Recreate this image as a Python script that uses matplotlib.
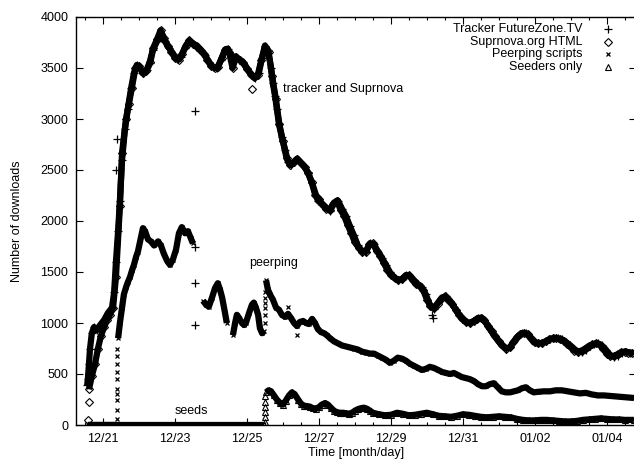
import numpy as np
import matplotlib
matplotlib.use('Agg')
import matplotlib.pyplot as plt
from matplotlib.ticker import MultipleLocator

plt.rcParams['font.family'] = ['Liberation Sans', 'DejaVu Sans']
plt.rcParams['font.size'] = 9

nan = float('nan')

# x in days since 12/21 00:00
tick_days = [0, 2, 4, 6, 8, 10, 12, 14]
tick_labels = ['12/21', '12/23', '12/25', '12/27', '12/29', '12/31', '01/02', '01/04']

tracker_day = [-0.44, -0.42, -0.39, -0.36, -0.31, -0.25, -0.17, -0.08, 0.03, 0.14, 0.25, 0.31,
               0.36, 0.42, 0.47, 0.53, 0.61, 0.69, 0.78, 0.86, 0.94, 1.03, 1.11, 1.22, 1.31,
               1.39, 1.50, 1.61, 1.72, 1.83, 1.94, 2.06, 2.17, 2.28, 2.39, 2.50, 2.61, 2.72,
               2.83, 2.94, 3.06, 3.17, 3.28, 3.39, 3.47, 3.56, 3.67, 3.78, 3.89, 4.00, 4.11,
               4.22, 4.33, 4.42, 4.50, 4.58, 4.67, 4.72, 4.78, 4.83, 4.89, 4.97, 5.06, 5.14,
               5.22, 5.31, 5.39, 5.47, 5.58, 5.69, 5.81, 5.97, 6.14, 6.31, 6.42, 6.53, 6.64,
               6.75, 6.86, 6.97, 7.08, 7.19, 7.31, 7.42, 7.53, 7.64, 7.75, 7.86, 7.97, 8.08,
               8.19, 8.31, 8.42, 8.53, 8.64, 8.75, 8.86, 8.97, 9.08, 9.19, 9.31, 9.42, 9.53,
               9.64, 9.75, 9.86, 9.97, 10.08, 10.19, 10.31, 10.42, 10.53, 10.64, 10.75, 10.86,
               10.97, 11.08, 11.19, 11.31, 11.42, 11.53, 11.64, 11.75, 11.86, 11.97, 12.08,
               12.19, 12.31, 12.42, 12.53, 12.64, 12.75, 12.86, 12.97, 13.08, 13.19, 13.31,
               13.42, 13.53, 13.64, 13.75, 13.86, 13.97, 14.08, 14.19, 14.31, 14.42, 14.53,
               14.64, 14.75]
tracker_val = [390, 450, 600, 750, 900, 960, 930, 980, 1030, 1100, 1150, 1300,
               1600, 1900, 2200, 2600, 2900, 3100, 3300, 3450, 3530, 3500, 3450, 3480, 3550,
               3680, 3760, 3800, 3760, 3700, 3640, 3590, 3610, 3700, 3760, 3740, 3720, 3680,
               3630, 3560, 3510, 3500, 3580, 3680, 3690, 3620, 3610, 3580, 3560, 3500, 3430,
               3400, 3450, 3600, 3720, 3680, 3500, 3350, 3230, 3100, 2950, 2820, 2700, 2580,
               2550, 2580, 2610, 2580, 2540, 2480, 2370, 2200, 2150, 2100, 2180, 2200, 2120,
               2050, 1950, 1860, 1760, 1700, 1700, 1780, 1770, 1700, 1640, 1570, 1500, 1450,
               1420, 1430, 1470, 1460, 1420, 1380, 1350, 1280, 1180, 1140, 1200, 1250, 1260,
               1220, 1160, 1100, 1040, 1010, 1000, 1020, 1050, 1050, 1000, 940, 880,
               830, 780, 750, 760, 820, 870, 900, 900, 860, 810, 800,
               805, 820, 840, 850, 850, 840, 815, 785, 750, 720, 720,
               740, 770, 790, 800, 780, 740, 690, 670, 680, 710, 720,
               710, 700]
tracker_odd_day = [2.56, 2.56, 2.56, 2.56, 9.14, 9.17, 0.36, 0.39]
tracker_odd_val = [3080, 1750, 1390, 980, 1080, 1050, 2500, 2800]

suprnova_day = [-0.39, -0.31, -0.22, -0.14, -0.06, 0.03, 0.11, 0.19, 0.28, 0.36, 0.47, 0.53,
                0.64, 0.72, 0.8, 0.9, 1.0, 1.1, 1.2, 1.3, 1.4, 1.5, 1.6, 1.7, 1.8, 1.9, 2.0,
                2.1, 2.2, 2.3, 2.4, 2.5, 2.6, 2.7, 2.8, 2.9, 3.0, 3.1, 3.2, 3.3, 3.4, 3.5, 3.6,
                3.7, 3.8, 3.9, 4.0, 4.2, 4.3, 4.4, 4.5, 4.6, 4.7, 4.8, 4.9, 5.0, 5.1, 5.2,
                5.3, 5.4, 5.5, 5.6, 5.7, 5.8, 5.9, 6.0, 6.1, 6.2, 6.3, 6.4, 6.5, 6.6, 6.7,
                6.8, 6.9, 7.0, 7.1, 7.2, 7.3, 7.4, 7.5, 7.6, 7.7, 7.8, 7.9, 8.0, 8.1, 8.2,
                8.3, 8.4, 8.5, 8.6, 8.7, 8.8, 8.9, 9.0, 9.1, 9.2, 9.3, 9.4, 9.5, 9.6, 9.7,
                9.8, 9.9, 10.0, 10.1, 10.2, 10.3, 10.4, 10.5, 10.6, 10.7, 10.8, 10.9, 11.0,
                11.1, 11.2, 11.3, 11.4, 11.5, 11.6, 11.7, 11.8, 11.9, 12.0, 12.1, 12.2, 12.3,
                12.4, 12.5, 12.6, 12.7, 12.8, 12.9, 13.0, 13.1, 13.2, 13.3, 13.4, 13.5, 13.6,
                13.7, 13.8, 13.9, 14.0, 14.1, 14.2, 14.3, 14.4, 14.5, 14.6, 14.7]
suprnova_val = [350, 480, 600, 750, 870, 960, 1030, 1080, 1150, 1450, 2150, 2670,
                3000, 3150, 3300, 3500, 3520, 3450, 3470, 3560, 3700, 3780, 3870, 3790, 3720, 3660, 3600,
                3580, 3640, 3720, 3770, 3740, 3710, 3680, 3640, 3580, 3520, 3500, 3510, 3600, 3680, 3660, 3500,
                3610, 3580, 3550, 3490, 3410, 3430, 3580, 3700, 3660, 3420, 3200, 2950, 2780, 2620, 2550,
                2580, 2610, 2570, 2530, 2470, 2380, 2250, 2220, 2160, 2120, 2110, 2170, 2200, 2110, 2050,
                1960, 1880, 1790, 1740, 1700, 1700, 1770, 1780, 1710, 1660, 1590, 1520, 1470, 1440, 1420,
                1430, 1460, 1470, 1420, 1380, 1360, 1320, 1230, 1170, 1150, 1190, 1240, 1260, 1230, 1190,
                1130, 1080, 1040, 1010, 1000, 1020, 1040, 1050, 1030, 970, 920, 870, 820,
                780, 750, 760, 810, 860, 890, 900, 890, 850, 810, 800, 805, 820,
                840, 850, 850, 840, 820, 790, 760, 730, 720, 730, 750, 775, 790,
                800, 785, 750, 700, 675, 675, 695, 715, 720, 710, 705]
suprnova_odd_day = [-0.42, -0.39, 4.14]
suprnova_odd_val = [50, 225, 3294]

peerping_day = [-0.42, 0.39, nan,
                0.42, 0.47, 0.53, 0.58, 0.64, 0.69, 0.75, 0.81, 0.86, 0.92, 0.97, 1.06, 1.11,
                1.17, 1.25, 1.33, 1.42, 1.53, 1.61, 1.69, 1.78, 1.86, 1.94, 2.03, 2.11, 2.19,
                2.28, 2.36, 2.44, 2.50, nan,
                2.78, 2.86, 2.94, 3.03, 3.11, 3.19, 3.25, 3.31, 3.39, 3.44, nan,
                3.61, 3.67, 3.72, 3.78, 3.86, 3.92, 3.97, 4.06, 4.14, 4.19, 4.25, 4.31, 4.36,
                4.42, 4.47, nan,
                4.53, 4.58, 4.64, 4.72, 4.81, 4.89, 4.97, 5.06, 5.14, 5.22, 5.31, 5.39, 5.47,
                5.56, 5.64, 5.72, 5.81, 5.89, 5.97, 6.06, 6.14, 6.22, 6.31, 6.42, 6.53, 6.64,
                6.75, 6.86, 6.97, 7.08, 7.19, 7.31, 7.42, 7.53, 7.64, 7.75, 7.86, 7.97, 8.08,
                8.19, 8.31, 8.42, 8.53, 8.64, 8.75, 8.86, 8.97, 9.08, 9.19, 9.31, 9.42, 9.53,
                9.64, 9.75, 9.86, 9.97, 10.08, 10.19, 10.31, 10.42, 10.53, 10.64, 10.75, 10.86,
                10.97, 11.08, 11.19, 11.31, 11.42, 11.53, 11.64, 11.75, 11.86, 11.97, 12.08,
                12.25, 12.42, 12.58, 12.75, 12.92, 13.08, 13.25, 13.42, 13.58, 13.75, 13.92,
                14.08, 14.25, 14.42, 14.58, 14.75]
peerping_val = [0, 0, nan,
                850, 1000, 1150, 1280, 1350, 1400, 1450, 1520, 1570, 1650, 1700, 1850, 1930,
                1900, 1820, 1800, 1760, 1800, 1760, 1680, 1610, 1570, 1620, 1720, 1880, 1940,
                1880, 1900, 1830, 1780, nan,
                1220, 1180, 1160, 1250, 1340, 1390, 1330, 1250, 1100, 1000, nan,
                880, 1000, 1080, 1050, 1000, 980, 1000, 1100, 1180, 1200, 1150, 1080, 950,
                900, 920, nan,
                1420, 1330, 1280, 1230, 1150, 1130, 1080, 1060, 1090, 1050, 1000, 970, 1010,
                1020, 1000, 990, 1040, 1000, 940, 910, 900, 880, 850, 820, 800, 780,
                770, 760, 750, 740, 720, 710, 700, 700, 680, 660, 640, 610, 630,
                660, 650, 630, 600, 580, 560, 540, 550, 570, 560, 540, 520, 510,
                500, 510, 490, 470, 460, 450, 430, 400, 380, 380, 400, 410,
                370, 330, 320, 320, 330, 340, 360, 370, 340, 320, 325,
                330, 330, 340, 340, 330, 320, 310, 315, 300, 290, 290,
                285, 280, 275, 270, 265]
# scattered samples during the fast jumps and odd readings
peerping_odd_day = [0.39, 0.39, 0.39, 0.39, 0.39, 0.39, 0.39, 0.39, 0.39, 0.39,
                    4.50, 4.50, 4.50, 4.50, 4.50, 4.50, 5.14, 5.39]
peerping_odd_val = [60, 150, 250, 300, 350, 450, 520, 600, 680, 750,
                    1000, 1080, 1150, 1200, 1250, 1300, 1160, 880]

seeds_day = [-0.42, 4.47, nan,
             4.53, 4.60, 4.67, 4.75, 4.83, 4.92, 5.00, 5.08, 5.17, 5.25, 5.33, 5.42, 5.50,
             5.58, 5.67, 5.75, 5.83, 5.92, 6.00, 6.08, 6.17, 6.25, 6.33, 6.42, 6.50, 6.58,
             6.67, 6.75, 6.83, 6.92, 7.00, 7.08, 7.17, 7.25, 7.33, 7.42, 7.50, 7.67, 7.83,
             8.00, 8.17, 8.33, 8.50, 8.67, 8.83, 9.00, 9.17, 9.33, 9.50, 9.67, 9.83, 10.00,
             10.17, 10.33, 10.50, 10.67, 10.83, 11.00, 11.17, 11.33, 11.50, 11.67, 11.83,
             12.00, 12.17, 12.33, 12.50, 12.67, 12.83, 13.00, 13.17, 13.33, 13.50, 13.67,
             13.83, 14.00, 14.17, 14.33, 14.50, 14.75]
seeds_val = [0, 0, nan,
             320, 340, 330, 290, 250, 215, 200, 240, 290, 320, 300, 250, 210,
             190, 185, 180, 165, 160, 175, 200, 215, 200, 170, 140, 125, 120,
             120, 115, 110, 120, 140, 155, 165, 170, 160, 140, 120, 105, 95,
             100, 120, 110, 95, 100, 110, 120, 105, 90, 85, 80, 90, 105,
             100, 90, 80, 75, 80, 85, 80, 75, 60, 50, 45,
             45, 50, 50, 45, 40, 35, 35, 40, 50, 55, 60,
             65, 60, 55, 55, 50, 50]
seeds_odd_day = [4.50, 4.50, 4.50, 4.50, 4.50, 4.50]
seeds_odd_val = [30, 80, 130, 180, 230, 280]

fig = plt.figure(figsize=(6.34, 4.62), dpi=100)
ax = fig.add_axes([76 / 634, 37 / 462, 560 / 634, 408 / 462])

band = dict(color='k', lw=4.5, solid_joinstyle='round', solid_capstyle='butt')
tri = dict(marker='^', ms=5, mfc='none', mec='k', mew=0.8)
cross = dict(marker='x', ms=3.5, mec='k', mew=0.9)
diam = dict(marker='D', ms=4, mfc='none', mec='k', mew=0.8)
plus = dict(marker='+', ms=6, mec='k', mew=0.9)

ax.plot(seeds_day, seeds_val, **tri, **band)
ax.plot(seeds_odd_day, seeds_odd_val, ls='none', **tri)
ax.plot(peerping_day, peerping_val, **cross, **band)
ax.plot(peerping_odd_day, peerping_odd_val, ls='none', **cross)
ax.plot(suprnova_day, suprnova_val, **diam, **band)
ax.plot(suprnova_odd_day, suprnova_odd_val, ls='none', **diam)
ax.plot(tracker_day, tracker_val, **plus, **band)
ax.plot(tracker_odd_day, tracker_odd_val, ls='none', **plus)

ax.set_xlim(-0.75, 14.81)
ax.set_ylim(0, 4000)
ax.set_xticks(tick_days)
ax.set_xticklabels(tick_labels)
ax.xaxis.set_minor_locator(MultipleLocator(0.5))
ax.yaxis.set_major_locator(MultipleLocator(500))
ax.tick_params(which='both', direction='in', top=True, right=True, width=0.8)
ax.tick_params(which='major', length=5, pad=5.5)
ax.tick_params(which='minor', length=2.5)
for s in ax.spines.values():
    s.set_linewidth(1.0)

ax.set_xlabel('Time [month/day]')
ax.set_ylabel('Number of downloads')
ax.xaxis.set_label_coords(0.5, -0.055)
ax.yaxis.set_label_coords(-0.095, 0.5)

ax.text(5.0, 3294, 'tracker and Suprnova', ha='left', va='center')
ax.text(4.75, 1588, 'peerping', ha='center', va='center')
ax.text(2.47, 137, 'seeds', ha='center', va='center')

# legend drawn by hand: right aligned text, marker on the right
legend_rows = [('Tracker FutureZone.TV', plus),
               ('Suprnova.org HTML', diam),
               ('Peerping scripts', cross),
               ('Seeders only', tri)]
for i, (label, style) in enumerate(legend_rows):
    yy = (425 - (29 + 12.6 * i)) / 408
    ax.text(0.9036, yy, label, ha='right', va='center', transform=ax.transAxes)
    ax.plot([0.95], [yy], ls='none', transform=ax.transAxes, clip_on=False, **style)

fig.savefig('out.png', dpi=100)
